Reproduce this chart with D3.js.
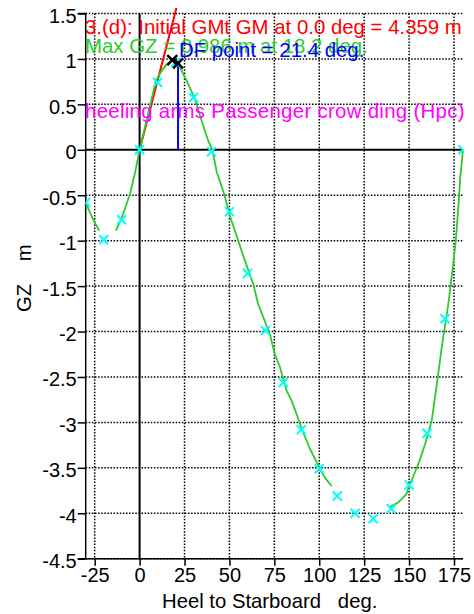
<!DOCTYPE html>
<html>
<head>
<meta charset="utf-8">
<script src="https://cdn.jsdelivr.net/npm/d3@7"></script>
<style>
  html, body { margin: 0; padding: 0; background: #fff; }
  svg text { font-family: "Liberation Sans", Arial, sans-serif; }
</style>
</head>
<body>
<svg id="chart" width="474" height="614"></svg>
<script>
// GZ righting-lever curve, heel to starboard
const xTicks = [-25, 0, 25, 50, 75, 100, 125, 150, 175];
const yTicks = [-4.5, -4, -3.5, -3, -2.5, -2, -1.5, -1, -0.5, 0, 0.5, 1, 1.5];

// Computed GZ curve (null = break in the plotted line)
const curveDeg = [-30, -27, -25, -22.5, null, -13.2, -10, -5.4, -2.5, 0, 3.9, 6.7, 9.1, 12, 15, 18.2, 21.4,
  26.2, 30.8, 34.5, 38.2, 40.6, 43, 47, 50.3, 54.9, 58.6, 63.3, 66, 68.8, 72.5, 75.3, 78.1, 81.8,
  84.6, 87.4, 90.2, 94.8, 100.4, 103.2, 106.9, null, 139.4, 144, 148.5, 150.1, 155.1, 158.9, 162.6,
  165.7, 168.2, 171.8, 174, 176, 177.5, 178.5, 180];
const curveGZ = [-0.58, -0.72, -0.80, -0.89, null, -0.89, -0.75, -0.49, -0.25, 0, 0.32, 0.56, 0.76, 0.86, 0.94, 0.986, 0.95,
  0.76, 0.56, 0.32, 0.10, -0.01, -0.25, -0.48, -0.73, -1.0, -1.22, -1.48, -1.70, -1.84, -2.03, -2.25, -2.39, -2.65,
  -2.76, -2.91, -3.07, -3.29, -3.51, -3.61, -3.70, null, -3.93, -3.88, -3.79, -3.70, -3.46, -3.24, -2.98,
  -2.54, -2.17, -1.70, -1.35, -1.0, -0.6, -0.3, 0];

// Tabulated points every 10 degrees
const markDeg = [-30, -20, -10, 0, 10, 20, 30, 40, 50, 60, 70, 80, 90, 100, 110, 120, 130, 140, 150, 160, 170, 180];
const markGZ = [-0.58, -0.99, -0.77, 0, 0.74, 0.96, 0.575, -0.02, -0.68, -1.36, -1.99, -2.56, -3.08, -3.51,
  -3.81, -4.00, -4.06, -3.95, -3.69, -3.12, -1.86, 0];

// Key values
const gmInitial = 4.359;      // m, at 0.0 deg
const gmLineTopGZ = 1.56;     // where the initial-GM line stops
const maxGZ = 0.986, maxGZDeg = 18.2;
const dfDeg = 21.4, dfGZ = 0.95;

const labels = {
  gm: "3.(d): Initial GMt GM at 0.0 deg = 4.359 m",
  max: "Max GZ = 0.986 m at 18.2 deg.",
  df: "DF point = 21.4 deg.",
  heel: "heeling arms Passenger crow ding (Hpc)",
  xTitle: "Heel to Starboard   deg.",
  yTitle: "GZ    m"
};

const svg = d3.select("#chart");
const plotL = 85.7, plotR = 463, plotT = 13.5, plotB = 558.7;
const x = d3.scaleLinear().domain([-30, 180]).range([plotL, plotR]);
const y = d3.scaleLinear().domain([-4.5, 1.5]).range([plotB, plotT]);
const plainNum = d => String(d);   // ASCII hyphen for negatives

svg.append("defs").append("clipPath").attr("id", "plotClip")
  .append("rect").attr("x", plotL).attr("y", 0).attr("width", plotR - plotL).attr("height", 614);

// Dotted grid
const grid = svg.append("g").attr("stroke", "#000").attr("stroke-width", 1.5).attr("stroke-dasharray", "1.5,1.6");
grid.selectAll("line.v").data(xTicks.filter(d => d !== 0)).join("line").attr("class", "v")
  .attr("x1", d => x(d)).attr("x2", d => x(d)).attr("y1", plotT).attr("y2", plotB);
grid.selectAll("line.h").data(yTicks.filter(d => d !== 0)).join("line").attr("class", "h")
  .attr("x1", plotL).attr("x2", plotR).attr("y1", d => y(d)).attr("y2", d => y(d));

// Zero lines
svg.append("line").attr("x1", x(0)).attr("x2", x(0)).attr("y1", plotT).attr("y2", plotB)
  .attr("stroke", "#000").attr("stroke-width", 2);
svg.append("line").attr("x1", plotL).attr("x2", plotR).attr("y1", y(0)).attr("y2", y(0))
  .attr("stroke", "#000").attr("stroke-width", 2);

// Axes
const yAxis = d3.axisLeft(y).tickValues(yTicks).tickSize(8).tickPadding(1).tickFormat(plainNum);
const gy = svg.append("g").attr("transform", `translate(${plotL},0)`).call(yAxis);
const xAxis = d3.axisBottom(x).tickValues(xTicks).tickSize(7).tickPadding(1).tickFormat(plainNum);
const gx = svg.append("g").attr("transform", `translate(0,${plotB})`).call(xAxis);
[gx, gy].forEach(g => {
  g.select(".domain").attr("stroke", "#000").attr("stroke-width", 1.5);
  g.selectAll(".tick line").attr("stroke", "#000").attr("stroke-width", 1.5);
  g.selectAll(".tick text").attr("fill", "#000").attr("font-size", 20)
    .attr("font-family", "'Liberation Sans', Arial, sans-serif");
});
gy.select(".domain").attr("d", `M-8,${plotB}H0V${plotT}H-8`);
gx.select(".domain").attr("d", `M${plotL - 6},0H${plotR}`);
gy.selectAll(".tick text").attr("dy", "0.45em");
gx.selectAll(".tick text").attr("dy", "0.78em");

// Axis titles
svg.append("text").attr("x", 162).attr("y", 607.5).attr("font-size", 20.3)
  .style("white-space", "pre").text(labels.xTitle);
svg.append("text").attr("transform", "translate(31,312) rotate(-90)").attr("font-size", 20.3)
  .style("white-space", "pre").text(labels.yTitle);

// Initial GM line (slope = GM per radian)
const gmEndDeg = gmLineTopGZ / gmInitial * (180 / Math.PI);
svg.append("line").attr("x1", x(0)).attr("y1", y(0)).attr("x2", x(gmEndDeg)).attr("y2", y(gmLineTopGZ))
  .attr("stroke", "#ff0000").attr("stroke-width", 2);

// GZ curve
const curve = curveDeg.map((d, i) => ({ d, v: curveGZ[i] }));
const line = d3.line().defined(p => p.d !== null && p.v !== null).x(p => x(p.d)).y(p => y(p.v));
svg.append("path").datum(curve).attr("d", line).attr("fill", "none")
  .attr("stroke", "#2bcc2b").attr("stroke-width", 1.8).attr("stroke-linejoin", "round");

// Downflooding point marker line
svg.append("line").attr("x1", x(dfDeg)).attr("x2", x(dfDeg)).attr("y1", y(0)).attr("y2", y(dfGZ))
  .attr("stroke", "#0000ff").attr("stroke-width", 2);

// Cross markers
function cross(g, cx, cy, r, color, w) {
  g.append("path").attr("d", `M${cx - r},${cy - r}L${cx + r},${cy + r}M${cx - r},${cy + r}L${cx + r},${cy - r}`)
    .attr("stroke", color).attr("stroke-width", w).attr("fill", "none");
}
const marks = svg.append("g").attr("clip-path", "url(#plotClip)");
markDeg.forEach((d, i) => cross(marks, x(d), y(markGZ[i]), 4.5, "#00ffff", 2));
cross(svg, x(maxGZDeg), y(maxGZ), 5, "#000", 2.5);
cross(svg, x(dfDeg), y(dfGZ), 5, "#000", 2.5);

// Annotations
const annSize = 20.4;
svg.append("text").attr("x", 85).attr("y", 33.5).attr("font-size", annSize).attr("fill", "#ff0000").text(labels.gm);
svg.append("text").attr("x", 85).attr("y", 53).attr("font-size", annSize).attr("fill", "#2bcc2b").text(labels.max);
svg.append("text").attr("x", 179).attr("y", 56.5).attr("font-size", annSize).attr("fill", "#0000ff").text(labels.df);
svg.append("text").attr("x", 85).attr("y", 117.5).attr("font-size", annSize).attr("fill", "#ff00ff")
  .attr("letter-spacing", 0.3).text(labels.heel);
</script>
</body>
</html>
